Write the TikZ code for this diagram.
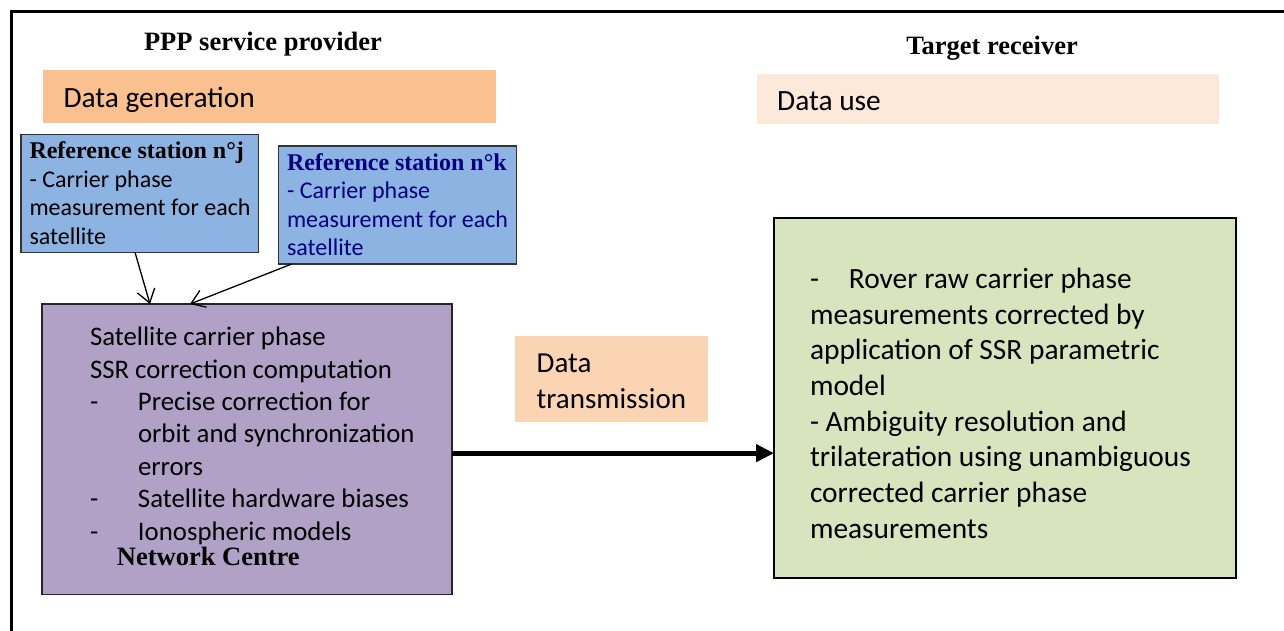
\documentclass[tikz,border=0pt]{standalone}
\usepackage{fontspec}
\setmainfont{Liberation Serif}
\newfontfamily\bodysans{Carlito}
\usetikzlibrary{arrows.meta,calc}
\definecolor{gencol}{HTML}{FAC08F}
\definecolor{usecol}{HTML}{FDE9D9}
\definecolor{stacol}{HTML}{8DB3E2}
\definecolor{netcol}{HTML}{B2A1C7}
\definecolor{trcol}{HTML}{FBD4B4}
\definecolor{rxcol}{HTML}{D7E4BD}
\definecolor{kcol}{HTML}{000080}
\begin{document}
\begin{tikzpicture}[x=1pt,y=-1pt,
  panel/.style={rectangle, inner sep=0pt, outer sep=0pt, anchor=north west},
  txt/.style={inner sep=0pt, outer sep=0pt, anchor=north west, align=left},
  heading/.style={inner sep=0pt, outer sep=0pt, anchor=base,
    font=\fontsize{26.5}{32}\selectfont\bfseries},
  station/.style={panel, fill=stacol, draw=black!80, line width=1.3pt,
    minimum width=237.5pt, minimum height=118pt},
  stafont/.style={font=\fontsize{24}{28.5}\selectfont\bodysans},
  feed/.style={line width=1.3pt, -{Straight Barb[length=13pt,width=18pt]}},
  link/.style={line width=5pt, -{Triangle[length=18pt,width=17pt]}}
]
\useasboundingbox (0,0) rectangle (1284,630);

% outer frame (top and left edges)
\draw[line width=3pt] (1290,11) -- (11,11) -- (11,636);

% headings
\node[heading] (hprov) at (263,50) {PPP service provider};
\node[heading] (hrecv) at (992,54) {Target receiver};

% stage banners
\node[panel, fill=gencol, minimum width=452.7pt, minimum height=52.7pt] (gen) at (43.3,70) {};
\node[inner sep=0pt, anchor=base west, font=\fontsize{29.4}{35}\selectfont\bodysans] (gentxt) at (63.3,107) {Data generation};
\node[panel, fill=usecol, minimum width=462pt, minimum height=50pt] (use) at (757,74) {};
\node[inner sep=0pt, anchor=base west, font=\fontsize{29.4}{35}\selectfont\bodysans] (usetxt) at (777,110) {Data use};

% reference stations
\node[station] (refj) at (21,134.3) {};
\node[txt, stafont] (refjtxt) at (29.5,139) {\strut{\rmfamily\bfseries Reference station n°j}\\
\strut - Carrier phase\\
\strut measurement for each\\
\strut satellite};
\node[station] (refk) at (278.7,146) {};
\node[txt, stafont, text=kcol] (refktxt) at (287,150.5) {\strut{\rmfamily\bfseries Reference station n°k}\\
\strut - Carrier phase\\
\strut measurement for each\\
\strut satellite};

% network centre
\node[panel, fill=netcol, draw=black!85, line width=1.5pt,
  minimum width=410pt, minimum height=290.3pt] (net) at (42,304) {};
\node[txt, font=\fontsize{26.8}{32.4}\selectfont\bodysans] (nettxt) at (90,323) {\strut Satellite carrier phase\\
\strut SSR correction computation\\
\strut\makebox[48pt][l]{-}Precise correction for\\
\strut\makebox[48pt][l]{}orbit and synchronization\\
\strut\makebox[48pt][l]{}errors\\
\strut\makebox[48pt][l]{-}Satellite hardware biases\\
\strut\makebox[48pt][l]{-}Ionospheric models};
\node[inner sep=0pt, anchor=base west, font=\fontsize{26.5}{32}\selectfont\bfseries] (netname) at (116.7,565) {Network Centre};

% transmission label
\node[panel, fill=trcol, minimum width=193pt, minimum height=85.7pt] (trans) at (515,336) {};
\node[txt, font=\fontsize{29}{36.5}\selectfont\bodysans] (transtxt) at (536.7,346.8) {\strut Data\\
\strut transmission};

% target receiver processing
\node[panel, fill=rxcol, draw=black, line width=2.2pt,
  minimum width=461.7pt, minimum height=359.4pt] (rx) at (774,218.3) {};
\node[txt, font=\fontsize{29.4}{35.7}\selectfont\bodysans] (rxtxt) at (810,263.3) {\strut\makebox[39pt][l]{-}Rover raw carrier phase\\
\strut measurements corrected by\\
\strut application of SSR parametric\\
\strut model\\
\strut - Ambiguity resolution and\\
\strut trilateration using unambiguous\\
\strut corrected carrier phase\\
\strut measurements};

% connectors
\draw[feed] ($(refj.south west)+(114,0)$) -- ($(net.north west)+(108,0)$);
\draw[feed] ($(refk.south west)+(13,0)$) -- ($(net.north west)+(148,0)$);
\draw[link] ($(net.east)+(0,4)$) -- ($(net.east -| rx.west)+(0,4)$);
\end{tikzpicture}
\end{document}
